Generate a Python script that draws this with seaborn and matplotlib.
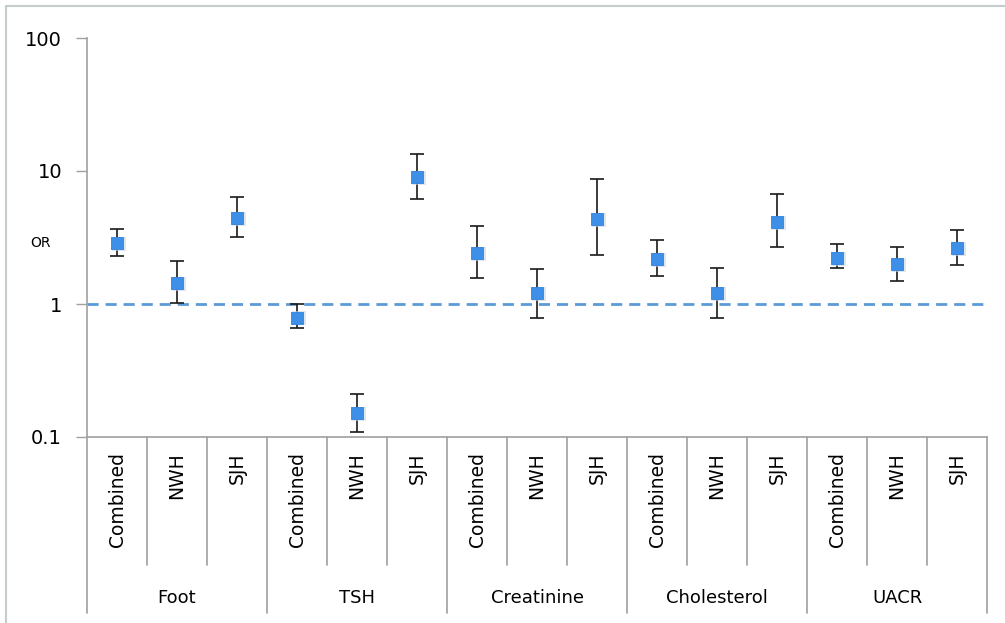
import matplotlib
matplotlib.use("Agg")
import matplotlib.pyplot as plt
import matplotlib.transforms as mtransforms
from matplotlib.lines import Line2D
import seaborn as sns
import numpy as np
import pandas as pd

sns.set_style("white")
plt.rcParams["font.family"] = ["DejaVu Sans"]
plt.rcParams["text.color"] = "black"
plt.rcParams["ytick.labelcolor"] = "black"

groups = ["Foot", "TSH", "Creatinine", "Cholesterol", "UACR"]
sites = ["Combined", "NWH", "SJH"]
odds = [2.88, 1.44, 4.43, 0.79, 0.152, 9.0, 2.42, 1.21, 4.36, 2.18, 1.20, 4.11, 2.23, 2.0, 2.62]
ci_low = [2.30, 1.02, 3.19, 0.66, 0.109, 6.16, 1.57, 0.78, 2.35, 1.62, 0.79, 2.70, 1.85, 1.50, 1.95]
ci_high = [3.66, 2.10, 6.38, 1.0, 0.21, 13.4, 3.86, 1.83, 8.7, 3.01, 1.85, 6.68, 2.83, 2.68, 3.6]

df = pd.DataFrame({
    "group": np.repeat(groups, len(sites)),
    "site": sites * len(groups),
    "OR": odds,
    "lo": ci_low,
    "hi": ci_high,
})
df["pos"] = np.arange(len(df))

fig = plt.figure(figsize=(10.05, 6.23), dpi=100)
ax = fig.add_axes([87 / 1005, 1 - 437 / 623, 900 / 1005, 399 / 623])

ax.errorbar(df["pos"], df["OR"],
            yerr=[df["OR"] - df["lo"], df["hi"] - df["OR"]],
            fmt="none", ecolor="#1a1a1a", elinewidth=1.2, capsize=5, capthick=1.2, zorder=2)
# faint shadow under the markers
ax.scatter(df["pos"] + 0.03, df["OR"] * 0.985, marker="s", s=110, color="#c9d6e6",
           alpha=0.6, linewidths=0, zorder=2.5)
sns.scatterplot(data=df, x="pos", y="OR", marker="s", s=85, color="#3d8fe8",
                edgecolor="#3282dc", linewidth=0.6, ax=ax, zorder=3)
ax.axhline(1, color="#5b9bd8", linestyle=(0, (4, 2.5)), linewidth=2, zorder=1)

ax.set_yscale("log")
ax.set_ylim(0.1, 100)
ax.set_xlim(-0.5, len(df) - 0.5)
ax.set_yticks([0.1, 1, 10, 100])
ax.set_yticklabels(["0.1", "1", "10", "100"], fontsize=14)
ax.minorticks_off()
ax.set_xticks([])
ax.set_xlabel("")
ax.set_ylabel("")
ax.tick_params(axis="y", left=True, length=8, width=1, color="#a0a0a0", pad=10)

for side in ["top", "right"]:
    ax.spines[side].set_visible(False)
for side in ["left", "bottom"]:
    ax.spines[side].set_color("#a0a0a0")
    ax.spines[side].set_linewidth(1.2)

fig.text(30 / 1005, 1 - 243 / 623, "OR", fontsize=10, ha="left", va="center")

# category table below the axis
trans = mtransforms.blended_transform_factory(ax.transData, fig.transFigure)
y_axis = 1 - 437 / 623
y_inner = 1 - 565 / 623
y_outer = 1 - 613 / 623
for k in range(len(df) + 1):
    b = k - 0.5
    y_end = y_outer if k % 3 == 0 else y_inner
    ax.plot([b, b], [y_axis, y_end], transform=trans, color="#a0a0a0",
            linewidth=1.2, clip_on=False)

for _, row in df.iterrows():
    ax.text(row["pos"], 1 - 452 / 623, row["site"], transform=trans, rotation=90,
            ha="center", va="top", fontsize=13.5)

for i, g in enumerate(groups):
    ax.text(i * 3 + 1, 1 - 598 / 623, g, transform=trans, ha="center", va="center",
            fontsize=13)

# outer frame (top and left only)
fig.add_artist(Line2D([6 / 1005, 1], [1 - 6 / 623, 1 - 6 / 623], transform=fig.transFigure,
                      color="#c4cccc", linewidth=1.5))
fig.add_artist(Line2D([6 / 1005, 6 / 1005], [0, 1 - 6 / 623], transform=fig.transFigure,
                      color="#c4cccc", linewidth=1.5))

fig.savefig("out.png", dpi=100)
